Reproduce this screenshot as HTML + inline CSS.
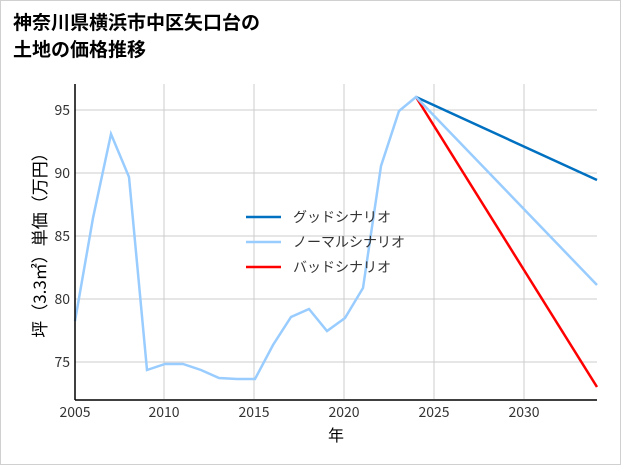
<!DOCTYPE html>
<html><head><meta charset="utf-8"><style>
body{margin:0;background:#fff}
.wrap{width:619px;height:463px;border:1px solid #d0d0d0;position:relative;font-family:"Liberation Sans","Noto Sans CJK JP",sans-serif}
</style></head><body><div class="wrap">
<svg width="619" height="463" xmlns="http://www.w3.org/2000/svg" style="position:absolute;left:0;top:0">
<text x="12" y="28" font-size="19" font-weight="bold" font-family="Liberation Sans,Noto Sans CJK JP,sans-serif">神奈川県横浜市中区矢口台の</text>
<text x="12" y="55" font-size="19" font-weight="bold" font-family="Liberation Sans,Noto Sans CJK JP,sans-serif">土地の価格推移</text>
<g stroke="#cccccc" stroke-width="1">
<line x1="163" y1="83" x2="163" y2="398"/><line x1="253" y1="83" x2="253" y2="398"/><line x1="343" y1="83" x2="343" y2="398"/><line x1="433" y1="83" x2="433" y2="398"/><line x1="523" y1="83" x2="523" y2="398"/>
<line x1="74" y1="109" x2="596" y2="109"/><line x1="74" y1="172" x2="596" y2="172"/><line x1="74" y1="235" x2="596" y2="235"/><line x1="74" y1="298" x2="596" y2="298"/><line x1="74" y1="361" x2="596" y2="361"/>
</g>
<polyline fill="none" stroke="#0070c0" stroke-width="2.5" points="415,96 596,179"/>
<polyline fill="none" stroke="#ff0000" stroke-width="2.5" points="415,96 596,386"/>
<polyline fill="none" stroke="#99ccff" stroke-width="2.5" points="74,320 92,217 110,133 128,176 146,369 164,363 182,363 200,369 218,377 236,378 254,378 272,344 290,316 308,308 326,330 344,317 362,287 380,165 398,110 415,96 596,284"/>
<line x1="74" y1="83" x2="74" y2="399" stroke="#000" stroke-width="1.5"/>
<line x1="74" y1="399" x2="596" y2="399" stroke="#000" stroke-width="1.5"/>
<g font-size="14" fill="#333" font-family="Noto Sans CJK JP,sans-serif">
<text x="69" y="114" text-anchor="end">95</text><text x="69" y="177" text-anchor="end">90</text><text x="69" y="240" text-anchor="end">85</text><text x="69" y="303" text-anchor="end">80</text><text x="69" y="366" text-anchor="end">75</text>
<text x="74" y="416" text-anchor="middle">2005</text><text x="163" y="416" text-anchor="middle">2010</text><text x="253" y="416" text-anchor="middle">2015</text><text x="343" y="416" text-anchor="middle">2020</text><text x="433" y="416" text-anchor="middle">2025</text><text x="523" y="416" text-anchor="middle">2030</text>
</g>
<text x="335" y="440" font-size="16" text-anchor="middle" font-family="Noto Sans CJK JP,sans-serif">年</text>
<text transform="translate(45,240) rotate(-90)" font-size="17" text-anchor="middle" font-family="Noto Sans CJK JP,sans-serif">坪（3.3㎡）単価（万円）</text>
<g font-size="14" font-family="Noto Sans CJK JP,sans-serif" fill="#333">
<line x1="245" y1="216" x2="280" y2="216" stroke="#0070c0" stroke-width="2.5"/><text x="292" y="221">グッドシナリオ</text>
<line x1="245" y1="241" x2="280" y2="241" stroke="#99ccff" stroke-width="2.5"/><text x="292" y="246">ノーマルシナリオ</text>
<line x1="245" y1="266" x2="280" y2="266" stroke="#ff0000" stroke-width="2.5"/><text x="292" y="271">バッドシナリオ</text>
</g>
</svg></div></body></html>
